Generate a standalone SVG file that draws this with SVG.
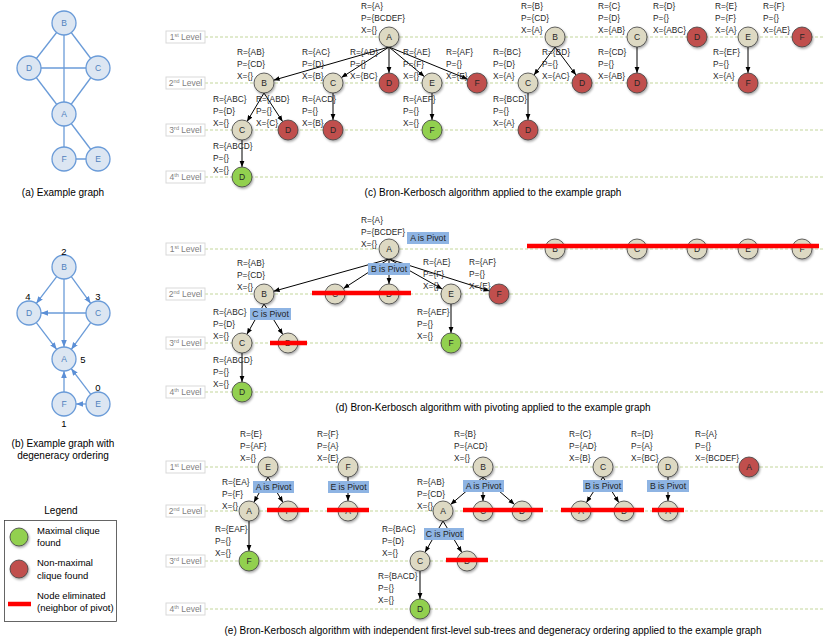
<svg xmlns="http://www.w3.org/2000/svg" width="830" height="638" viewBox="0 0 830 638">
<defs>
<marker id="ah" viewBox="0 0 10 10" refX="10" refY="5" markerWidth="6" markerHeight="6" orient="auto" markerUnits="userSpaceOnUse"><path d="M0,1 L10,5 L0,9 z" fill="#000"/></marker>
<marker id="bh" viewBox="0 0 10 10" refX="10" refY="5" markerWidth="7" markerHeight="7" orient="auto" markerUnits="userSpaceOnUse"><path d="M0,1 L10,5 L0,9 z" fill="#5B8FD6"/></marker>
<filter id="sh" x="-30%" y="-30%" width="170%" height="170%"><feDropShadow dx="1" dy="1.5" stdDeviation="0.8" flood-color="#000" flood-opacity="0.35"/></filter>
</defs>
<style>
text{font-family:"Liberation Sans",Arial,sans-serif}
.lvl{stroke:#C3D69B;stroke-width:1;stroke-dasharray:3 2}
.lvb{fill:#fff;stroke:#D9D9D9;stroke-width:1}
.lvt{font-size:8.5px;fill:#7F7F7F;text-anchor:middle}
.n circle{stroke:#3F3F3F;stroke-width:0.8;filter:url(#sh)}
.t{fill:#DDD9C3}
.r{fill:#C0504D}
.g{fill:#92D050}
.nl{font-size:8.5px;text-anchor:middle;fill:#262626}
.lab{font-size:8.3px;fill:#262626}
.e{stroke:#000;stroke-width:1;fill:none;marker-end:url(#ah)}
.el{stroke:#FF0000;stroke-width:4.5}
.pv{fill:#8EB4E3}
.pvt{font-size:8.7px;fill:#1F1F1F;text-anchor:middle}
.gn circle{fill:#DCE6F2;stroke:#6A9BD8;stroke-width:1.3}
.gl{font-size:8.5px;fill:#4F81BD;text-anchor:middle}
.ge{stroke:#6A9BD8;stroke-width:1.3;fill:none}
.gd{stroke:#6A9BD8;stroke-width:1.3;fill:none;marker-end:url(#bh)}
.num{font-size:9.5px;fill:#000;text-anchor:middle}
.cap{font-size:10px;fill:#000;text-anchor:middle}
.leg{font-size:9.5px;fill:#000}
</style>
<rect width="830" height="638" fill="#fff"/>

<!-- Level guides -->
<g id="levels">
<line class="lvl" x1="205" y1="37" x2="823" y2="37"/><line class="lvl" x1="205" y1="83" x2="823" y2="83"/><line class="lvl" x1="205" y1="130" x2="823" y2="130"/><line class="lvl" x1="205" y1="177" x2="823" y2="177"/>
<line class="lvl" x1="205" y1="249" x2="823" y2="249"/><line class="lvl" x1="205" y1="294" x2="823" y2="294"/><line class="lvl" x1="205" y1="343" x2="823" y2="343"/><line class="lvl" x1="205" y1="392" x2="823" y2="392"/>
<line class="lvl" x1="205" y1="467" x2="823" y2="467"/><line class="lvl" x1="205" y1="511" x2="823" y2="511"/><line class="lvl" x1="205" y1="561" x2="823" y2="561"/><line class="lvl" x1="205" y1="609" x2="823" y2="609"/>
<g id="lv-c1"><rect class="lvb" x="166" y="31" width="39" height="12"/><text class="lvt" x="185.5" y="40">1<tspan font-size="5.5" dy="-3">st</tspan><tspan dy="3"> Level</tspan></text></g>
<g id="lv-c2"><rect class="lvb" x="166" y="77" width="39" height="12"/><text class="lvt" x="185.5" y="86">2<tspan font-size="5.5" dy="-3">nd</tspan><tspan dy="3"> Level</tspan></text></g>
<g id="lv-c3"><rect class="lvb" x="166" y="124" width="39" height="12"/><text class="lvt" x="185.5" y="133">3<tspan font-size="5.5" dy="-3">rd</tspan><tspan dy="3"> Level</tspan></text></g>
<g id="lv-c4"><rect class="lvb" x="166" y="171" width="39" height="12"/><text class="lvt" x="185.5" y="180">4<tspan font-size="5.5" dy="-3">th</tspan><tspan dy="3"> Level</tspan></text></g>
<g id="lv-d1"><rect class="lvb" x="166" y="243" width="39" height="12"/><text class="lvt" x="185.5" y="252">1<tspan font-size="5.5" dy="-3">st</tspan><tspan dy="3"> Level</tspan></text></g>
<g id="lv-d2"><rect class="lvb" x="166" y="288" width="39" height="12"/><text class="lvt" x="185.5" y="297">2<tspan font-size="5.5" dy="-3">nd</tspan><tspan dy="3"> Level</tspan></text></g>
<g id="lv-d3"><rect class="lvb" x="166" y="337" width="39" height="12"/><text class="lvt" x="185.5" y="346">3<tspan font-size="5.5" dy="-3">rd</tspan><tspan dy="3"> Level</tspan></text></g>
<g id="lv-d4"><rect class="lvb" x="166" y="386" width="39" height="12"/><text class="lvt" x="185.5" y="395">4<tspan font-size="5.5" dy="-3">th</tspan><tspan dy="3"> Level</tspan></text></g>
<g id="lv-e1"><rect class="lvb" x="166" y="461" width="39" height="12"/><text class="lvt" x="185.5" y="470">1<tspan font-size="5.5" dy="-3">st</tspan><tspan dy="3"> Level</tspan></text></g>
<g id="lv-e2"><rect class="lvb" x="166" y="505" width="39" height="12"/><text class="lvt" x="185.5" y="514">2<tspan font-size="5.5" dy="-3">nd</tspan><tspan dy="3"> Level</tspan></text></g>
<g id="lv-e3"><rect class="lvb" x="166" y="555" width="39" height="12"/><text class="lvt" x="185.5" y="564">3<tspan font-size="5.5" dy="-3">rd</tspan><tspan dy="3"> Level</tspan></text></g>
<g id="lv-e4"><rect class="lvb" x="166" y="603" width="39" height="12"/><text class="lvt" x="185.5" y="612">4<tspan font-size="5.5" dy="-3">th</tspan><tspan dy="3"> Level</tspan></text></g>
</g>

<!-- (a) example graph -->
<g id="a-edges">
<line class="ge" x1="64" y1="23" x2="29" y2="68"/><line class="ge" x1="64" y1="23" x2="98" y2="68"/><line class="ge" x1="64" y1="23" x2="64" y2="114"/>
<line class="ge" x1="29" y1="68" x2="98" y2="68"/><line class="ge" x1="29" y1="68" x2="64" y2="114"/><line class="ge" x1="98" y1="68" x2="64" y2="114"/>
<line class="ge" x1="64" y1="114" x2="64" y2="159"/><line class="ge" x1="64" y1="114" x2="98" y2="159"/><line class="ge" x1="64" y1="159" x2="98" y2="159"/>
</g>
<g id="a-B" class="gn"><circle cx="64" cy="23" r="12"/><text class="gl" x="64" y="26">B</text></g>
<g id="a-D" class="gn"><circle cx="29" cy="68" r="12"/><text class="gl" x="29" y="71">D</text></g>
<g id="a-C" class="gn"><circle cx="98" cy="68" r="12"/><text class="gl" x="98" y="71">C</text></g>
<g id="a-A" class="gn"><circle cx="64" cy="114" r="12"/><text class="gl" x="64" y="117">A</text></g>
<g id="a-F" class="gn"><circle cx="64" cy="159" r="12"/><text class="gl" x="64" y="162">F</text></g>
<g id="a-E" class="gn"><circle cx="98" cy="159" r="12"/><text class="gl" x="98" y="162">E</text></g>
<text class="cap" x="63" y="196">(a) Example graph</text>

<!-- (b) degeneracy graph -->
<g id="b-edges">
<line class="gd" x1="56.7" y1="276.6" x2="36.3" y2="303.4"/>
<line class="gd" x1="71.3" y1="276.6" x2="90.7" y2="303.4"/>
<line class="gd" x1="64" y1="279" x2="64" y2="347"/>
<line class="gd" x1="86" y1="313" x2="41" y2="313"/>
<line class="gd" x1="36.3" y1="322.6" x2="56.7" y2="349.4"/>
<line class="gd" x1="90.7" y1="322.6" x2="71.3" y2="349.4"/>
<line class="gd" x1="64" y1="392" x2="64" y2="371"/>
<line class="gd" x1="90.8" y1="394.4" x2="71.2" y2="368.6"/>
<line class="gd" x1="86" y1="404" x2="76" y2="404"/>
</g>
<g id="b-B" class="gn"><circle cx="64" cy="267" r="12"/><text class="gl" x="64" y="270">B</text><text class="num" x="64" y="255">2</text></g>
<g id="b-D" class="gn"><circle cx="29" cy="313" r="12"/><text class="gl" x="29" y="316">D</text><text class="num" x="28" y="300">4</text></g>
<g id="b-C" class="gn"><circle cx="98" cy="313" r="12"/><text class="gl" x="98" y="316">C</text><text class="num" x="98" y="300">3</text></g>
<g id="b-A" class="gn"><circle cx="64" cy="359" r="12"/><text class="gl" x="64" y="362">A</text><text class="num" x="83" y="363">5</text></g>
<g id="b-F" class="gn"><circle cx="64" cy="404" r="12"/><text class="gl" x="64" y="407">F</text><text class="num" x="64" y="427">1</text></g>
<g id="b-E" class="gn"><circle cx="98" cy="404" r="12"/><text class="gl" x="98" y="407">E</text><text class="num" x="98" y="391">0</text></g>
<text class="cap" x="63" y="447">(b) Example graph with</text>
<text class="cap" x="63" y="459">degeneracy ordering</text>

<!-- Legend -->
<g id="legend">
<text class="cap" x="61" y="514">Legend</text>
<rect x="4.5" y="520.5" width="112" height="101" fill="#fff" stroke="#404040" stroke-width="0.8"/>
<g class="n"><circle class="g" cx="19" cy="537" r="9"/></g>
<text class="leg" x="37" y="534">Maximal clique</text>
<text class="leg" x="37" y="546">found</text>
<g class="n"><circle class="r" cx="19" cy="569" r="9"/></g>
<text class="leg" x="37" y="566">Non-maximal</text>
<text class="leg" x="37" y="579">clique found</text>
<line class="el" x1="8" y1="604" x2="31" y2="604"/>
<text class="leg" x="37" y="599">Node eliminated</text>
<text class="leg" x="37" y="611">(neighbor of pivot)</text>
</g>

<!-- (c) connectors -->
<g id="c-edges">
<line class="e" x1="389" y1="47" x2="273.6" y2="80.2"/>
<line class="e" x1="389" y1="47" x2="341.4" y2="77.6"/>
<line class="e" x1="389" y1="47" x2="389" y2="73"/>
<line class="e" x1="389" y1="47" x2="424.3" y2="76.6"/>
<line class="e" x1="389" y1="47" x2="467.7" y2="79.2"/>
<line class="e" x1="264" y1="93" x2="247.1" y2="121.4"/>
<line class="e" x1="264" y1="93" x2="282.6" y2="121.6"/>
<line class="e" x1="333" y1="93" x2="333" y2="120"/>
<line class="e" x1="432" y1="93" x2="432" y2="120"/>
<line class="e" x1="242" y1="140" x2="242" y2="167"/>
<line class="e" x1="555" y1="47" x2="534" y2="75"/>
<line class="e" x1="555" y1="47" x2="576" y2="75"/>
<line class="e" x1="528" y1="93" x2="528" y2="120"/>
<line class="e" x1="637" y1="47" x2="637" y2="73"/>
<line class="e" x1="748" y1="47" x2="748" y2="73"/>
</g>

<!-- (c) nodes -->
<g id="c-A" class="n"><circle class="t" cx="389" cy="37" r="10"/><text class="nl" x="389" y="40">A</text><text class="lab"><tspan x="361" y="9">R={A}</tspan><tspan x="361" dy="12">P={BCDEF}</tspan><tspan x="361" dy="12">X={}</tspan></text></g>
<g id="c-AB" class="n"><circle class="t" cx="264" cy="83" r="10"/><text class="nl" x="264" y="86">B</text><text class="lab"><tspan x="237" y="55">R={AB}</tspan><tspan x="237" dy="12">P={CD}</tspan><tspan x="237" dy="12">X={}</tspan></text></g>
<g id="c-AC" class="n"><circle class="t" cx="333" cy="83" r="10"/><text class="nl" x="333" y="86">C</text><text class="lab"><tspan x="302" y="55">R={AC}</tspan><tspan x="302" dy="12">P={D}</tspan><tspan x="302" dy="12">X={B}</tspan></text></g>
<g id="c-AD" class="n"><circle class="r" cx="389" cy="83" r="10"/><text class="nl" x="389" y="86">D</text><text class="lab"><tspan x="350" y="55">R={AD}</tspan><tspan x="350" dy="12">P={}</tspan><tspan x="350" dy="12">X={BC}</tspan></text></g>
<g id="c-AE" class="n"><circle class="t" cx="432" cy="83" r="10"/><text class="nl" x="432" y="86">E</text><text class="lab"><tspan x="403" y="55">R={AE}</tspan><tspan x="403" dy="12">P={F}</tspan><tspan x="403" dy="12">X={}</tspan></text></g>
<g id="c-AF" class="n"><circle class="r" cx="477" cy="83" r="10"/><text class="nl" x="477" y="86">F</text><text class="lab"><tspan x="446" y="55">R={AF}</tspan><tspan x="446" dy="12">P={}</tspan><tspan x="446" dy="12">X={E}</tspan></text></g>
<g id="c-ABC" class="n"><circle class="t" cx="242" cy="130" r="10"/><text class="nl" x="242" y="133">C</text><text class="lab"><tspan x="213" y="102">R={ABC}</tspan><tspan x="213" dy="12">P={D}</tspan><tspan x="213" dy="12">X={}</tspan></text></g>
<g id="c-ABD" class="n"><circle class="r" cx="288" cy="130" r="10"/><text class="nl" x="288" y="133">D</text><text class="lab"><tspan x="256" y="102">R={ABD}</tspan><tspan x="256" dy="12">P={}</tspan><tspan x="256" dy="12">X={C}</tspan></text></g>
<g id="c-ACD" class="n"><circle class="r" cx="333" cy="130" r="10"/><text class="nl" x="333" y="133">D</text><text class="lab"><tspan x="302" y="102">R={ACD}</tspan><tspan x="302" dy="12">P={}</tspan><tspan x="302" dy="12">X={B}</tspan></text></g>
<g id="c-AEF" class="n"><circle class="g" cx="432" cy="130" r="10"/><text class="nl" x="432" y="133">F</text><text class="lab"><tspan x="403" y="102">R={AEF}</tspan><tspan x="403" dy="12">P={}</tspan><tspan x="403" dy="12">X={}</tspan></text></g>
<g id="c-ABCD" class="n"><circle class="g" cx="242" cy="177" r="10"/><text class="nl" x="242" y="180">D</text><text class="lab"><tspan x="213" y="149">R={ABCD}</tspan><tspan x="213" dy="12">P={}</tspan><tspan x="213" dy="12">X={}</tspan></text></g>
<g id="c-B" class="n"><circle class="t" cx="555" cy="37" r="10"/><text class="nl" x="555" y="40">B</text><text class="lab"><tspan x="521" y="9">R={B}</tspan><tspan x="521" dy="12">P={CD}</tspan><tspan x="521" dy="12">X={A}</tspan></text></g>
<g id="c-BC" class="n"><circle class="t" cx="528" cy="83" r="10"/><text class="nl" x="528" y="86">C</text><text class="lab"><tspan x="493" y="55">R={BC}</tspan><tspan x="493" dy="12">P={D}</tspan><tspan x="493" dy="12">X={A}</tspan></text></g>
<g id="c-BD" class="n"><circle class="r" cx="582" cy="83" r="10"/><text class="nl" x="582" y="86">D</text><text class="lab"><tspan x="542" y="55">R={BD}</tspan><tspan x="542" dy="12">P={}</tspan><tspan x="542" dy="12">X={AC}</tspan></text></g>
<g id="c-BCD" class="n"><circle class="r" cx="528" cy="130" r="10"/><text class="nl" x="528" y="133">D</text><text class="lab"><tspan x="493" y="102">R={BCD}</tspan><tspan x="493" dy="12">P={}</tspan><tspan x="493" dy="12">X={A}</tspan></text></g>
<g id="c-C" class="n"><circle class="t" cx="637" cy="37" r="10"/><text class="nl" x="637" y="40">C</text><text class="lab"><tspan x="598" y="9">R={C}</tspan><tspan x="598" dy="12">P={D}</tspan><tspan x="598" dy="12">X={AB}</tspan></text></g>
<g id="c-CD" class="n"><circle class="r" cx="637" cy="83" r="10"/><text class="nl" x="637" y="86">D</text><text class="lab"><tspan x="598" y="55">R={CD}</tspan><tspan x="598" dy="12">P={}</tspan><tspan x="598" dy="12">X={AB}</tspan></text></g>
<g id="c-D" class="n"><circle class="r" cx="697" cy="37" r="10"/><text class="nl" x="697" y="40">D</text><text class="lab"><tspan x="653" y="9">R={D}</tspan><tspan x="653" dy="12">P={}</tspan><tspan x="653" dy="12">X={ABC}</tspan></text></g>
<g id="c-E" class="n"><circle class="t" cx="748" cy="37" r="10"/><text class="nl" x="748" y="40">E</text><text class="lab"><tspan x="715" y="9">R={E}</tspan><tspan x="715" dy="12">P={F}</tspan><tspan x="715" dy="12">X={A}</tspan></text></g>
<g id="c-EF" class="n"><circle class="r" cx="748" cy="83" r="10"/><text class="nl" x="748" y="86">F</text><text class="lab"><tspan x="713" y="55">R={EF}</tspan><tspan x="713" dy="12">P={}</tspan><tspan x="713" dy="12">X={A}</tspan></text></g>
<g id="c-F" class="n"><circle class="r" cx="802" cy="37" r="10"/><text class="nl" x="802" y="40">F</text><text class="lab"><tspan x="763" y="9">R={F}</tspan><tspan x="763" dy="12">P={}</tspan><tspan x="763" dy="12">X={AE}</tspan></text></g>
<text class="cap" x="493" y="196">(c) Bron-Kerbosch algorithm applied to the example graph</text>

<!-- (d) connectors -->
<g id="d-edges">
<line class="e" x1="389" y1="259" x2="273.6" y2="291.3"/>
<line class="e" x1="389" y1="259" x2="343.4" y2="288.6"/>
<line class="e" x1="389" y1="259" x2="389" y2="284"/>
<line class="e" x1="389" y1="259" x2="442.3" y2="289.1"/>
<line class="e" x1="389" y1="259" x2="489.5" y2="291"/>
<line class="e" x1="264" y1="304" x2="246.9" y2="334.3"/>
<line class="e" x1="264" y1="304" x2="282.8" y2="334.5"/>
<line class="e" x1="451" y1="304" x2="451" y2="333"/>
<line class="e" x1="242" y1="353" x2="242" y2="382"/>
</g>
<!-- (d) nodes -->
<g id="d-A" class="n"><circle class="t" cx="389" cy="249" r="10"/><text class="nl" x="389" y="252">A</text><text class="lab"><tspan x="361" y="223">R={A}</tspan><tspan x="361" dy="12">P={BCDEF}</tspan><tspan x="361" dy="12">X={}</tspan></text></g>
<g id="d-AB" class="n"><circle class="t" cx="264" cy="294" r="10"/><text class="nl" x="264" y="297">B</text><text class="lab"><tspan x="237" y="266">R={AB}</tspan><tspan x="237" dy="12">P={CD}</tspan><tspan x="237" dy="12">X={}</tspan></text></g>
<g id="d-AC" class="n"><circle class="t" cx="335" cy="294" r="10"/><text class="nl" x="335" y="297">C</text></g>
<g id="d-AD" class="n"><circle class="t" cx="389" cy="294" r="10"/><text class="nl" x="389" y="297">D</text></g>
<g id="d-AE" class="n"><circle class="t" cx="451" cy="294" r="10"/><text class="nl" x="451" y="297">E</text><text class="lab"><tspan x="423" y="265">R={AE}</tspan><tspan x="423" dy="12">P={F}</tspan><tspan x="423" dy="12">X={}</tspan></text></g>
<g id="d-AF" class="n"><circle class="r" cx="499" cy="294" r="10"/><text class="nl" x="499" y="297">F</text><text class="lab"><tspan x="469" y="265">R={AF}</tspan><tspan x="469" dy="12">P={}</tspan><tspan x="469" dy="12">X={E}</tspan></text></g>
<g id="d-ABC" class="n"><circle class="t" cx="242" cy="343" r="10"/><text class="nl" x="242" y="346">C</text><text class="lab"><tspan x="213" y="315">R={ABC}</tspan><tspan x="213" dy="12">P={D}</tspan><tspan x="213" dy="12">X={}</tspan></text></g>
<g id="d-ABD" class="n"><circle class="t" cx="288" cy="343" r="10"/><text class="nl" x="288" y="346">D</text></g>
<g id="d-AEF" class="n"><circle class="g" cx="451" cy="343" r="10"/><text class="nl" x="451" y="346">F</text><text class="lab"><tspan x="417" y="315">R={AEF}</tspan><tspan x="417" dy="12">P={}</tspan><tspan x="417" dy="12">X={}</tspan></text></g>
<g id="d-ABCD" class="n"><circle class="g" cx="242" cy="392" r="10"/><text class="nl" x="242" y="395">D</text><text class="lab"><tspan x="213" y="363">R={ABCD}</tspan><tspan x="213" dy="12">P={}</tspan><tspan x="213" dy="12">X={}</tspan></text></g>
<g id="d-B" class="n"><circle class="t" cx="555" cy="249" r="10"/><text class="nl" x="555" y="252">B</text></g>
<g id="d-C" class="n"><circle class="t" cx="637" cy="249" r="10"/><text class="nl" x="637" y="252">C</text></g>
<g id="d-D" class="n"><circle class="t" cx="697" cy="249" r="10"/><text class="nl" x="697" y="252">D</text></g>
<g id="d-E" class="n"><circle class="t" cx="748" cy="249" r="10"/><text class="nl" x="748" y="252">E</text></g>
<g id="d-F" class="n"><circle class="t" cx="802" cy="249" r="10"/><text class="nl" x="802" y="252">F</text></g>
<g id="d-pivots">
<rect class="pv" x="407" y="232" width="42" height="12"/><text class="pvt" x="428" y="241">A is Pivot</text>
<rect class="pv" x="368" y="263" width="42" height="12"/><text class="pvt" x="389" y="272">B is Pivot</text>
<rect class="pv" x="250" y="308" width="41" height="12"/><text class="pvt" x="270.5" y="317">C is Pivot</text>
</g>
<g id="d-elim">
<line class="el" x1="312" y1="293" x2="411" y2="293"/>
<line class="el" x1="270" y1="343" x2="307" y2="343"/>
<line class="el" x1="527" y1="246" x2="819" y2="246"/>
</g>
<text class="cap" x="493" y="411">(d) Bron-Kerbosch algorithm with pivoting applied to the example graph</text>

<!-- (e) connectors -->
<g id="e-edges">
<line class="e" x1="268" y1="477" x2="253.9" y2="502.3"/>
<line class="e" x1="268" y1="477" x2="282.9" y2="502.4"/>
<line class="e" x1="249" y1="521" x2="249" y2="551"/>
<line class="e" x1="348" y1="477" x2="348" y2="501"/>
<line class="e" x1="483" y1="477" x2="450.6" y2="504.5"/>
<line class="e" x1="483" y1="477" x2="483" y2="501"/>
<line class="e" x1="483" y1="477" x2="514.5" y2="504.4"/>
<line class="e" x1="443" y1="521" x2="425" y2="552.3"/>
<line class="e" x1="443" y1="521" x2="461.8" y2="552.4"/>
<line class="e" x1="420" y1="571" x2="420" y2="599"/>
<line class="e" x1="603" y1="477" x2="586.4" y2="502.6"/>
<line class="e" x1="603" y1="477" x2="618.8" y2="502.5"/>
<line class="e" x1="668" y1="477" x2="668" y2="501"/>
</g>
<!-- (e) nodes -->
<g id="e-E" class="n"><circle class="t" cx="268" cy="467" r="10"/><text class="nl" x="268" y="470">E</text><text class="lab"><tspan x="240" y="437">R={E}</tspan><tspan x="240" dy="12">P={AF}</tspan><tspan x="240" dy="12">X={}</tspan></text></g>
<g id="e-EA" class="n"><circle class="t" cx="249" cy="511" r="10"/><text class="nl" x="249" y="514">A</text><text class="lab"><tspan x="222" y="485">R={EA}</tspan><tspan x="222" dy="12">P={F}</tspan><tspan x="222" dy="12">X={}</tspan></text></g>
<g id="e-EF" class="n"><circle class="t" cx="288" cy="511" r="10"/><text class="nl" x="288" y="514">F</text></g>
<g id="e-EAF" class="n"><circle class="g" cx="249" cy="561" r="10"/><text class="nl" x="249" y="564">F</text><text class="lab"><tspan x="215" y="532">R={EAF}</tspan><tspan x="215" dy="12">P={}</tspan><tspan x="215" dy="12">X={}</tspan></text></g>
<g id="e-F" class="n"><circle class="t" cx="348" cy="467" r="10"/><text class="nl" x="348" y="470">F</text><text class="lab"><tspan x="317" y="437">R={F}</tspan><tspan x="317" dy="12">P={A}</tspan><tspan x="317" dy="12">X={E}</tspan></text></g>
<g id="e-FA" class="n"><circle class="t" cx="348" cy="511" r="10"/><text class="nl" x="348" y="514">A</text></g>
<g id="e-B" class="n"><circle class="t" cx="483" cy="467" r="10"/><text class="nl" x="483" y="470">B</text><text class="lab"><tspan x="454" y="437">R={B}</tspan><tspan x="454" dy="12">P={ACD}</tspan><tspan x="454" dy="12">X={}</tspan></text></g>
<g id="e-BA" class="n"><circle class="t" cx="443" cy="511" r="10"/><text class="nl" x="443" y="514">A</text><text class="lab"><tspan x="417" y="485">R={AB}</tspan><tspan x="417" dy="12">P={CD}</tspan><tspan x="417" dy="12">X={}</tspan></text></g>
<g id="e-BC" class="n"><circle class="t" cx="483" cy="511" r="10"/><text class="nl" x="483" y="514">C</text></g>
<g id="e-BD" class="n"><circle class="t" cx="522" cy="511" r="10"/><text class="nl" x="522" y="514">D</text></g>
<g id="e-BAC" class="n"><circle class="t" cx="420" cy="561" r="10"/><text class="nl" x="420" y="564">C</text><text class="lab"><tspan x="382" y="532">R={BAC}</tspan><tspan x="382" dy="12">P={D}</tspan><tspan x="382" dy="12">X={}</tspan></text></g>
<g id="e-BAD" class="n"><circle class="t" cx="467" cy="561" r="10"/><text class="nl" x="467" y="564">D</text></g>
<g id="e-BACD" class="n"><circle class="g" cx="420" cy="609" r="10"/><text class="nl" x="420" y="612">D</text><text class="lab"><tspan x="378" y="579">R={BACD}</tspan><tspan x="378" dy="12">P={}</tspan><tspan x="378" dy="12">X={}</tspan></text></g>
<g id="e-C" class="n"><circle class="t" cx="603" cy="467" r="10"/><text class="nl" x="603" y="470">C</text><text class="lab"><tspan x="569" y="437">R={C}</tspan><tspan x="569" dy="12">P={AD}</tspan><tspan x="569" dy="12">X={B}</tspan></text></g>
<g id="e-CA" class="n"><circle class="t" cx="581" cy="511" r="10"/><text class="nl" x="581" y="514">A</text></g>
<g id="e-CD" class="n"><circle class="t" cx="624" cy="511" r="10"/><text class="nl" x="624" y="514">D</text></g>
<g id="e-D" class="n"><circle class="t" cx="668" cy="467" r="10"/><text class="nl" x="668" y="470">D</text><text class="lab"><tspan x="631" y="437">R={D}</tspan><tspan x="631" dy="12">P={A}</tspan><tspan x="631" dy="12">X={BC}</tspan></text></g>
<g id="e-DA" class="n"><circle class="t" cx="668" cy="511" r="10"/><text class="nl" x="668" y="514">A</text></g>
<g id="e-A" class="n"><circle class="r" cx="749" cy="467" r="10"/><text class="nl" x="749" y="470">A</text><text class="lab"><tspan x="695" y="437">R={A}</tspan><tspan x="695" dy="12">P={}</tspan><tspan x="695" dy="12">X={BCDEF}</tspan></text></g>
<g id="e-pivots">
<rect class="pv" x="253" y="481" width="41" height="12"/><text class="pvt" x="273.5" y="490">A is Pivot</text>
<rect class="pv" x="328" y="481" width="41" height="12"/><text class="pvt" x="348.5" y="490">E is Pivot</text>
<rect class="pv" x="463" y="480" width="41" height="12"/><text class="pvt" x="483.5" y="489">A is Pivot</text>
<rect class="pv" x="424" y="528" width="40" height="12"/><text class="pvt" x="444" y="537">C is Pivot</text>
<rect class="pv" x="583" y="480" width="40" height="12"/><text class="pvt" x="603" y="489">B is Pivot</text>
<rect class="pv" x="647" y="480" width="42" height="12"/><text class="pvt" x="668" y="489">B is Pivot</text>
</g>
<g id="e-elim">
<line class="el" x1="267" y1="510" x2="309" y2="510"/>
<line class="el" x1="327" y1="510" x2="369" y2="510"/>
<line class="el" x1="463" y1="510" x2="543" y2="510"/>
<line class="el" x1="561" y1="510" x2="644" y2="510"/>
<line class="el" x1="652" y1="510" x2="684" y2="510"/>
<line class="el" x1="446" y1="560" x2="488" y2="560"/>
</g>
<text class="cap" x="493" y="634">(e) Bron-Kerbosch algorithm with independent first-level sub-trees and degeneracy ordering applied to the example graph</text>
</svg>
